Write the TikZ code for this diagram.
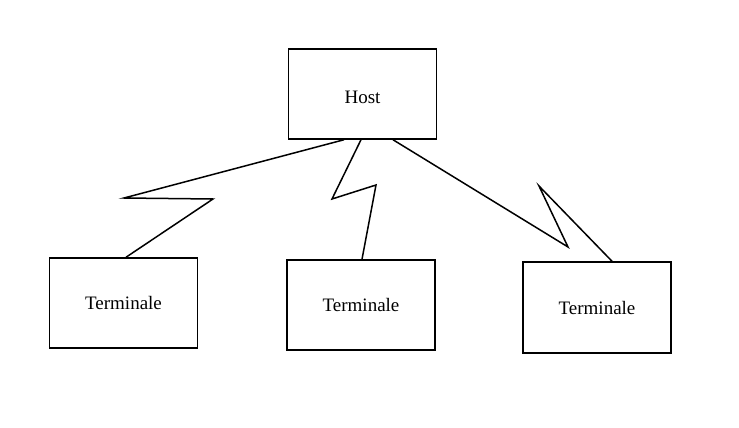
\documentclass[tikz,border=0pt]{standalone}
\usepackage{fontspec}
\setmainfont{Liberation Serif}
\begin{document}
\begin{tikzpicture}[x=1pt,y=-1pt,
  box/.style={draw,line width=1.5pt,minimum width=148pt,minimum height=90pt,inner sep=0pt,font=\fontsize{19}{22}\selectfont},
  bolt/.style={draw,line width=1.5pt,line join=miter}]
\useasboundingbox (0,0) rectangle (739,428);
\node[box] (host) at (362.5,94) {\raisebox{-3pt}[\height][0pt]{Host}};
\node[box] (t1) at (123.5,303) {Terminale};
\node[box] (t2) at (361,305) {Terminale};
\node[box,minimum height=91pt] (t3) at (597,307.5) {Terminale};
\coordinate (a1) at (124,198);
\coordinate (a2) at (213,199);
\coordinate (b1) at (332,199);
\coordinate (b2) at (376,185);
\coordinate (c1) at (568,247);
\coordinate (c2) at (539,186);
\draw[bolt] (344,0 |- host.south) -- (a1) -- (a2) -- (126,0 |- t1.north);
\draw[bolt] (361,0 |- host.south) -- (b1) -- (b2) -- (362,0 |- t2.north);
\draw[bolt] (393,0 |- host.south) -- (c1) -- (c2) -- (612,0 |- t3.north);
\end{tikzpicture}
\end{document}
